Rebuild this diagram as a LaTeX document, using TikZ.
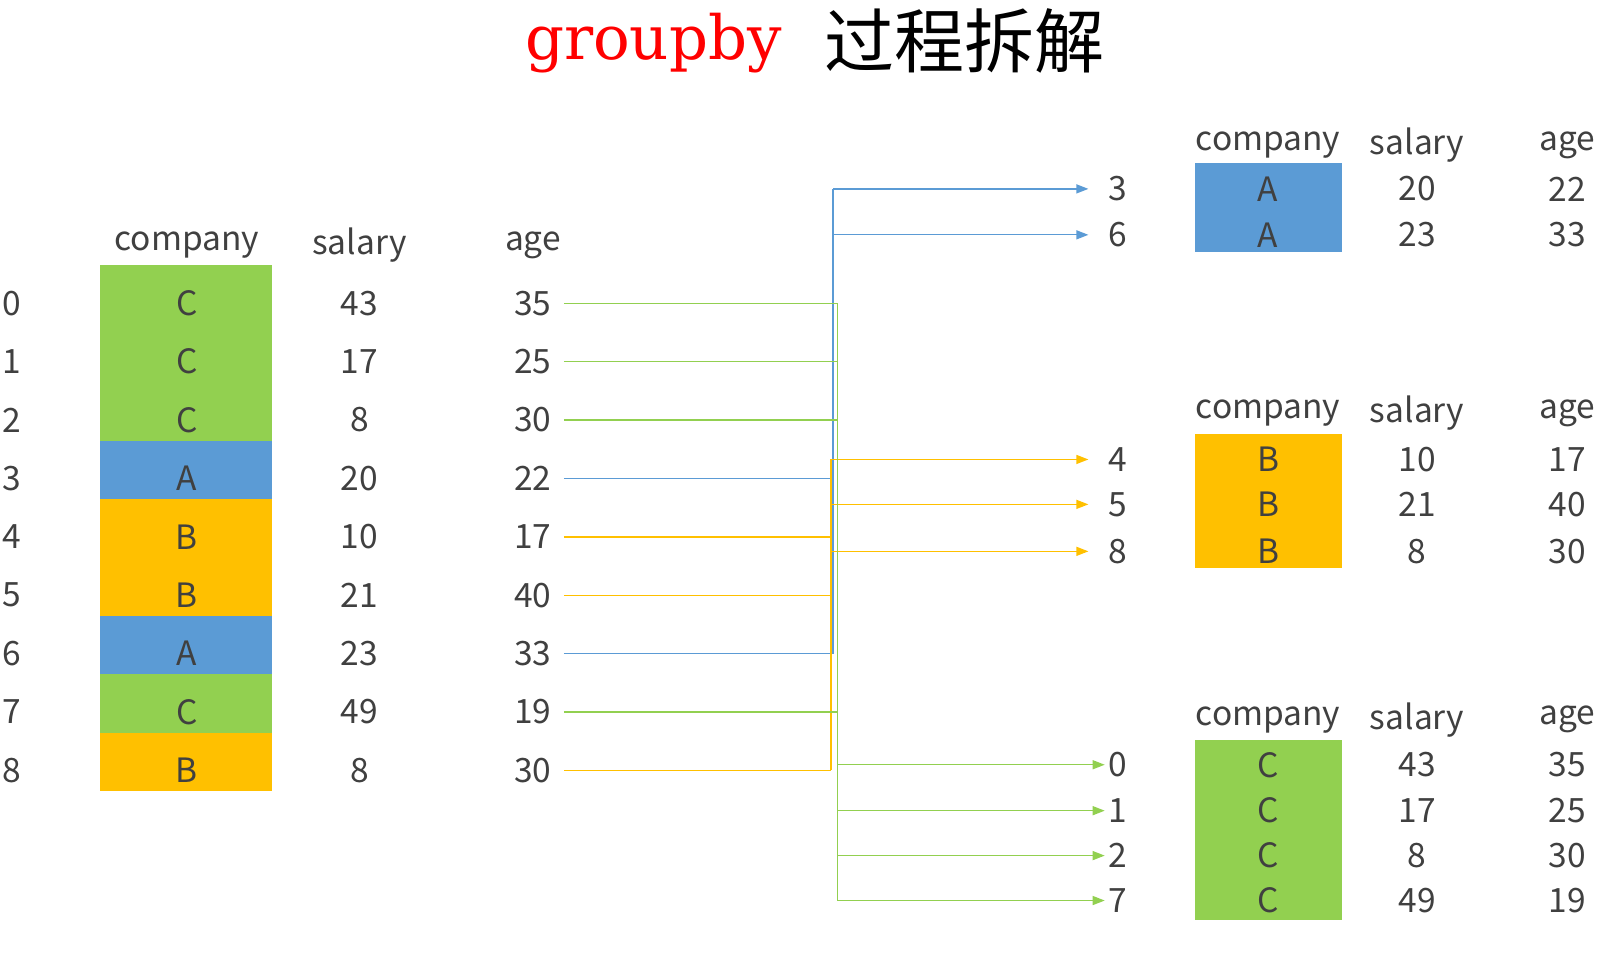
\documentclass[tikz,border=0pt]{standalone}
\usepackage{fontspec}
\setmainfont{Noto Sans CJK SC}
\newfontfamily\titlefont{DejaVu Serif}
\newfontfamily\cjk{Noto Sans CJK SC}
\usetikzlibrary{arrows.meta}
\definecolor{cgreen}{HTML}{92D050}
\definecolor{cblue}{HTML}{5B9BD5}
\definecolor{cyellow}{HTML}{FFC000}
\definecolor{ctext}{HTML}{404040}
\tikzset{
  txt/.style={text=ctext,font=\fontsize{33.5}{38}\selectfont,inner sep=0pt},
  link/.style={line width=1.3pt},
  arr/.style={link,-{Triangle[length=12pt,width=9pt]}}
}
\begin{document}
\begin{tikzpicture}[x=1.021pt,y=-1.021pt]
  \useasboundingbox (0pt,0pt) rectangle (1600pt,-978pt);
  \node[text=red,font=\titlefont\fontsize{61}{62}\selectfont] (title) at (640,42) {groupby};
  \node[font=\cjk\fontsize{70}{72}\selectfont] (titlecn) at (945,40) {过程拆解};
  % left table
  \node[txt] (hcomp) at (183,240) {company};
  \node[txt] (hsal) at (352,240) {salary};
  \node[txt] (hage) at (522,240) {age};
  \foreach \i/\c/\col/\s/\a in {0/C/cgreen/43/35,1/C/cgreen/17/25,2/C/cgreen/8/30,
      3/A/cblue/20/22,4/B/cyellow/10/17,5/B/cyellow/21/40,6/A/cblue/23/33,
      7/C/cgreen/49/19,8/B/cyellow/8/30}{
    \fill[\col] (98,260+57.2*\i) rectangle (266,317.2+57.2*\i);
    \node[txt] (idx\i) at (12,297+57.2*\i) {\i};
    \node[txt] (comp\i) at (183,297+57.2*\i) {\c};
    \node[txt] (sal\i) at (352,297+57.2*\i) {\s};
    \node[txt,inner xsep=12pt] (age\i) at (522,297+57.2*\i) {\a};
  }
  % buses
  \coordinate (busA) at (816,0);
  \coordinate (busB) at (814,0);
  \coordinate (busC) at (820,0);
  % group A
  \node[txt] at (1242,142) {company};
  \node[txt] at (1388,142) {salary};
  \node[txt] at (1535,142) {age};
  \fill[cblue] (1170,160) rectangle (1314,247);
  \foreach \k/\i/\y/\s/\a in {1/3/185/20/22,2/6/230/23/33}{
    \node[txt] (ga\k) at (1095,\y) {\i};
    \node[txt] at (1242,\y) {A};
    \node[txt] at (1388,\y) {\s};
    \node[txt] at (1535,\y) {\a};
    \draw[arr,cblue] (ga\k.west -| busA) -- ++(250,0);
  }
  \foreach \i in {3,6}
    \draw[link,cblue] (age\i.east) -- (age\i.east -| busA);
  \draw[link,cblue] (ga1.west -| busA) -- (age6.east -| busA);
  % group B
  \node[txt] at (1242,405) {company};
  \node[txt] at (1388,405) {salary};
  \node[txt] at (1535,405) {age};
  \fill[cyellow] (1170,425) rectangle (1314,556);
  \foreach \k/\i/\y/\s/\a in {1/4/450/10/17,2/5/494/21/40,3/8/540/8/30}{
    \node[txt] (gb\k) at (1095,\y) {\i};
    \node[txt] at (1242,\y) {B};
    \node[txt] at (1388,\y) {\s};
    \node[txt] at (1535,\y) {\a};
    \draw[arr,cyellow] (gb\k.west -| busB) -- ++(252,0);
  }
  \foreach \i in {4,5,8}
    \draw[link,cyellow] (age\i.east) -- (age\i.east -| busB);
  \draw[link,cyellow] (gb1.west -| busB) -- (age8.east -| busB);
  % group C
  \node[txt] at (1242,705) {company};
  \node[txt] at (1388,705) {salary};
  \node[txt] at (1535,705) {age};
  \fill[cgreen] (1170,725) rectangle (1314,901);
  \foreach \k/\i/\y/\s/\a in {1/0/749/43/35,2/1/794/17/25,3/2/838/8/30,4/7/882/49/19}{
    \node[txt] (gc\k) at (1095,\y) {\i};
    \node[txt] at (1242,\y) {C};
    \node[txt] at (1388,\y) {\s};
    \node[txt] at (1535,\y) {\a};
    \draw[arr,cgreen] (gc\k.west -| busC) -- ++(262,0);
  }
  \foreach \i in {0,1,2,7}
    \draw[link,cgreen] (age\i.east) -- (age\i.east -| busC);
  \draw[link,cgreen] (age0.east -| busC) -- (gc4.west -| busC);
\end{tikzpicture}
\end{document}
